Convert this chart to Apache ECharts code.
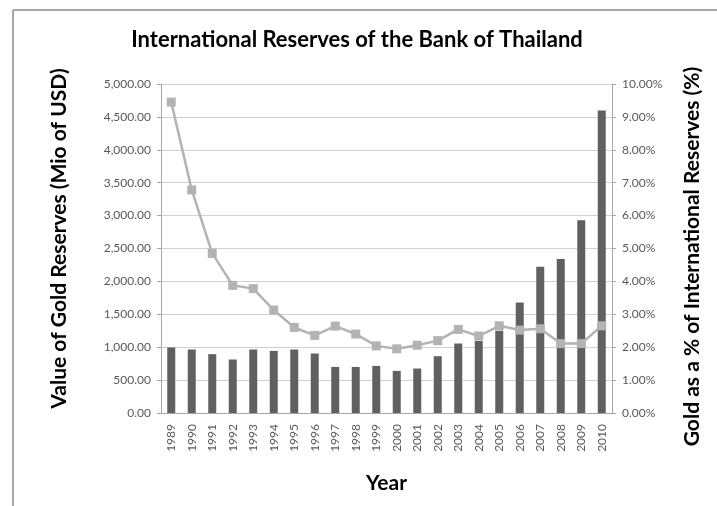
<!DOCTYPE html>
<html>
<head>
<meta charset="utf-8">
<script src="https://cdn.jsdelivr.net/npm/echarts@6/dist/echarts.min.js"></script>
<style>
html,body{margin:0;padding:0;background:#fff;}
#chart{width:717px;height:506px;}
</style>
</head>
<body>
<div id="chart"></div>
<script>
const years = ['1989','1990','1991','1992','1993','1994','1995','1996','1997','1998','1999','2000','2001','2002','2003','2004','2005','2006','2007','2008','2009','2010'];
const goldValue = [996, 965, 894, 813, 965, 944, 965, 904, 700, 700, 716, 640, 676, 863, 1056, 1095, 1250, 1681, 2223, 2340, 2929, 4598];
const goldPct = [9.45, 6.78, 4.85, 3.88, 3.78, 3.13, 2.60, 2.36, 2.64, 2.40, 2.04, 1.95, 2.06, 2.20, 2.54, 2.34, 2.65, 2.52, 2.56, 2.11, 2.11, 2.65];

const FONT = 'Lato';
const chart = echarts.init(document.getElementById('chart'), null, {renderer:'canvas'});
chart.setOption({
  animation:false,
  backgroundColor:'#ffffff',
  textStyle:{fontFamily:FONT},
  title:{
    text:'International Reserves of the Bank of Thailand',
    left:352, top:24, textAlign:'center',
    textStyle:{fontFamily:FONT, fontWeight:'bold', fontSize:22, color:'#000'}
  },
  graphic:[
    {type:'line', shape:{x1:13,y1:10,x2:717,y2:10}, style:{stroke:'#a6a6a6', lineWidth:2}},
    {type:'line', shape:{x1:13,y1:10,x2:13,y2:506}, style:{stroke:'#a6a6a6', lineWidth:2}}
  ],
  grid:{left:161, right:105, top:84, bottom:93},
  xAxis:{
    type:'category', data:years,
    name:'Year', nameLocation:'middle', nameGap:60,
    nameTextStyle:{fontFamily:FONT, fontWeight:'bold', fontSize:21, color:'#000'},
    axisLine:{lineStyle:{color:'#a6a6a6'}},
    axisTick:{show:false},
    axisLabel:{rotate:90, fontSize:12, color:'#595959', margin:11, interval:0}
  },
  yAxis:[
    {
      type:'value', min:0, max:5000, interval:500,
      name:'Value of Gold Reserves (Mio of USD)', nameLocation:'middle', nameGap:91,
      nameTextStyle:{fontFamily:FONT, fontWeight:'bold', fontSize:21, color:'#000', padding:[0,0,0,20]},
      axisLine:{show:true, lineStyle:{color:'#a6a6a6'}},
      axisTick:{show:true, length:4, lineStyle:{color:'#a6a6a6'}},
      splitLine:{lineStyle:{color:'#d0d0d0'}},
      axisLabel:{fontSize:12, color:'#595959', margin:10,
        formatter:v=>v.toLocaleString('en-US',{minimumFractionDigits:2,maximumFractionDigits:2})}
    },
    {
      type:'value', min:0, max:10, interval:1, position:'right',
      name:'Gold as a % of International Reserves (%)', nameLocation:'middle', nameGap:70,
      nameTextStyle:{fontFamily:FONT, fontWeight:'bold', fontSize:21, color:'#000', padding:[0,16,0,0]},
      axisLine:{show:true, lineStyle:{color:'#a6a6a6'}},
      axisTick:{show:true, length:4, lineStyle:{color:'#a6a6a6'}},
      splitLine:{show:false},
      axisLabel:{fontSize:12, color:'#595959', margin:10, formatter:v=>v.toFixed(2)+'%'}
    }
  ],
  series:[
    {type:'bar', data:goldValue, yAxisIndex:0, barWidth:8, itemStyle:{color:'#606060'}},
    {type:'line', data:goldPct, yAxisIndex:1, symbol:'rect', symbolSize:9,
      lineStyle:{color:'#b3b3b3', width:2.5}, itemStyle:{color:'#b3b3b3'}}
  ]
});
</script>
</body>
</html>
